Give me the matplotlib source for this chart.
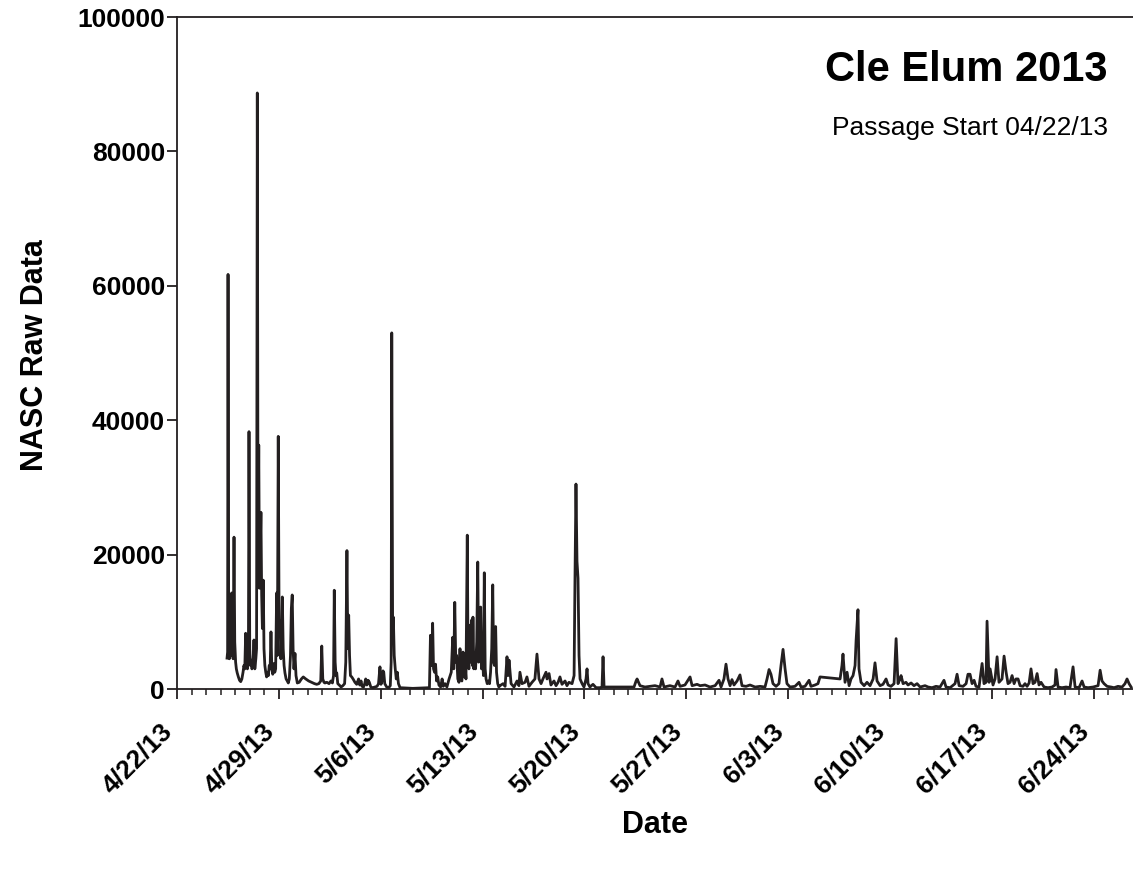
import matplotlib
matplotlib.use('Agg')
import matplotlib.pyplot as plt
import matplotlib.dates as mdates
from matplotlib.ticker import FuncFormatter, FixedLocator
from matplotlib.transforms import ScaledTranslation
import numpy as np
import pandas as pd

plt.rcParams['font.family'] = ['Liberation Sans', 'DejaVu Sans']
plt.rcParams['font.weight'] = 'bold'

# passage start; times below are days since 4/22/13 00:00
start = pd.Timestamp('2013-04-22')

# late April - early May
days_a = [3.44, 3.48, 3.51, 3.55, 3.60, 3.65, 3.70, 3.76, 3.81, 3.86, 3.92, 3.97, 4.03, 4.08,
          4.14, 4.22, 4.30, 4.38, 4.46, 4.54, 4.60, 4.66, 4.72, 4.78, 4.84, 4.91, 4.95, 5.00,
          5.05, 5.09, 5.15, 5.22, 5.29, 5.35, 5.42, 5.47, 5.52, 5.57, 5.62, 5.67, 5.72, 5.77,
          5.82, 5.87, 5.93, 5.98, 6.04, 6.10, 6.16, 6.22, 6.28, 6.34, 6.40, 6.46, 6.52, 6.58,
          6.63, 6.67, 6.72, 6.78, 6.85, 6.90, 6.96, 7.02, 7.08, 7.14, 7.19, 7.24, 7.30, 7.36,
          7.42, 7.50, 7.58, 7.65, 7.72, 7.80, 7.86, 7.92, 7.98, 8.04, 8.11, 8.18, 8.27, 8.40,
          8.55, 8.68, 8.85, 9.05, 9.25, 9.45, 9.60, 9.75, 9.88, 9.95, 10.02, 10.10, 10.17,
          10.30, 10.45, 10.58, 10.68, 10.76, 10.81, 10.87, 10.93, 10.98, 11.05, 11.15, 11.28,
          11.40, 11.52, 11.60, 11.68, 11.74, 11.80, 11.86, 11.92, 12.01, 12.10, 12.23, 12.35,
          12.48, 12.56, 12.65, 12.72, 12.82, 12.90, 12.97, 13.05, 13.14, 13.22, 13.32, 13.45,
          13.60, 13.75, 13.85, 13.90, 13.95, 14.02, 14.10, 14.16, 14.21, 14.28, 14.41, 14.55,
          14.66, 14.72, 14.76, 14.82, 14.87, 14.93, 15.00, 15.07, 15.14, 15.22, 15.33, 16.20]
nasc_a = [4600, 5500, 61700, 5000, 4500, 12000, 5000, 14300, 6000, 4500, 22600, 7000, 4000, 3000,
          2400, 1800, 1300, 1100, 1500, 2500, 3500, 3000, 8300, 4000, 3000, 5500, 38300, 6000,
          3500, 4300, 3000, 3500, 7300, 3000, 4500, 6000, 88700, 20000, 36300, 15000, 20000, 26300,
          14000, 9000, 16200, 6000, 3500, 2500, 1800, 2500, 2000, 3500, 3000, 8500, 3000, 2200,
          2800, 3800, 2500, 3000, 14300, 5000, 37600, 9000, 10200, 4500, 8000, 13700, 6000, 3500,
          2400, 1500, 1200, 900, 1500, 5000, 12000, 14000, 6000, 3000, 5300, 2000, 900, 1000,
          1500, 1800, 1500, 1200, 1000, 800, 700, 800, 1200, 6400, 1500, 1000, 900,
          1000, 800, 1200, 900, 2000, 14700, 4000, 2000, 2400, 800, 600, 300,
          500, 800, 4000, 20600, 6000, 11000, 5000, 2000, 1800, 1500, 1000, 700,
          1500, 600, 1200, 400, 300, 800, 1500, 600, 1300, 1000, 300, 200,
          300, 400, 800, 2000, 3300, 700, 1200, 2700, 2500, 800, 300, 200,
          500, 4000, 53000, 9000, 10700, 5000, 3000, 1500, 2500, 800, 200, 100]

# mid May
days_b = [17.35, 17.42, 17.50, 17.57, 17.63, 17.70, 17.77, 17.84, 17.92, 18.00, 18.12, 18.22,
          18.30, 18.42, 18.55, 18.70, 18.85, 18.95, 19.02, 19.09, 19.16, 19.22, 19.30, 19.38,
          19.45, 19.50, 19.58, 19.66, 19.72, 19.80, 19.86, 19.95, 20.00, 20.06, 20.12, 20.18,
          20.26, 20.30, 20.34, 20.40, 20.46, 20.52, 20.60, 20.67, 20.73, 20.80, 20.87, 20.93,
          21.00, 21.06, 21.12, 21.18, 21.24, 21.32, 21.40, 21.48, 21.55, 21.63, 21.70, 21.76,
          21.82, 21.90, 21.96, 22.04, 22.12, 22.20]
nasc_b = [200, 8000, 3500, 9800, 3000, 2500, 3700, 1200, 1800, 600, 300, 1500,
          400, 800, 300, 1500, 2500, 7700, 3000, 12900, 4000, 5000, 1500, 1000,
          6000, 1500, 1200, 5500, 1800, 3500, 1500, 22900, 5500, 3000, 9500, 4000,
          10300, 3500, 10700, 3000, 5000, 3000, 7000, 18900, 4000, 6000, 12200, 3000,
          5000, 2000, 17300, 3000, 1500, 800, 1200, 800, 2500, 6000, 15500, 4000,
          3500, 9300, 2500, 800, 300, 500]

# late May
days_c = [22.41, 22.55, 22.68, 22.75, 22.82, 22.96, 23.16, 23.37, 23.50, 23.57, 23.71, 23.92,
          24.05, 24.19, 24.40, 24.60, 24.74, 24.88, 25.02, 25.15, 25.36, 25.43, 25.57, 25.70,
          25.91, 26.05, 26.19, 26.32, 26.46, 26.67, 26.80, 26.94, 27.15, 27.29, 27.35, 27.42,
          27.49, 27.56, 27.63, 27.70, 27.84, 27.97, 28.11, 28.18, 28.25, 28.38, 28.59, 28.80,
          29.07, 29.21, 29.28, 29.35, 31.41]
nasc_c = [800, 400, 4800, 2000, 4300, 800, 300, 1200, 500, 2500, 800, 1000,
          1800, 400, 1000, 1500, 5200, 1500, 800, 1500, 2500, 1500, 2300, 600,
          1200, 500, 1000, 1800, 700, 1200, 500, 1000, 800, 2000, 16000, 30500,
          19000, 16500, 5000, 1500, 800, 300, 1500, 3000, 800, 300, 700, 200,
          200, 300, 4800, 300, 300]

# June
days_d = [31.55, 31.62, 31.82, 32.16, 32.51, 32.85, 33.20, 33.33, 33.47, 33.88, 34.23, 34.43,
          34.57, 34.91, 35.26, 35.40, 35.74, 35.95, 36.29, 36.63, 36.98, 37.25, 37.39, 37.59,
          37.73, 37.87, 38.01, 38.14, 38.28, 38.49, 38.69, 38.83, 39.11, 39.38, 39.73, 40.07,
          40.41, 40.55, 40.69, 40.82, 40.96, 41.17, 41.37, 41.51, 41.65, 41.79, 41.92, 42.13,
          42.47, 42.75, 42.89, 43.16, 43.44, 43.57, 43.85, 44.05, 44.19, 45.57, 45.70, 45.77,
          45.91, 46.05, 46.19, 46.32, 46.46, 46.60, 46.67, 46.80, 46.87, 47.01, 47.22, 47.42,
          47.63, 47.84, 47.97, 48.11, 48.32, 48.52, 48.73, 48.87, 49.07, 49.28, 49.42, 49.55,
          49.69, 49.76, 49.90, 50.10, 50.24, 50.45, 50.65, 50.86, 51.07, 51.41, 51.62, 51.89,
          52.16, 52.44, 52.71, 52.85, 53.13, 53.47, 53.61, 53.75, 54.02, 54.23, 54.36, 54.50,
          54.64, 54.78, 54.91, 55.12, 55.33, 55.46, 55.60, 55.67, 55.81, 55.88, 56.08, 56.22,
          56.36, 56.49, 56.70, 56.84, 56.98, 57.11, 57.25, 57.39, 57.53, 57.66, 57.80, 57.94,
          58.14, 58.28, 58.42, 58.56, 58.69, 58.83, 58.97, 59.11, 59.24, 59.38, 59.59, 59.86,
          60.14, 60.34, 60.41, 60.55, 60.82, 61.10, 61.37, 61.58, 61.72, 61.99, 62.20, 62.34,
          62.61, 62.96, 63.30, 63.44, 63.57, 63.71, 63.92, 64.19, 64.40, 64.67, 64.95, 65.15,
          65.29, 65.43, 65.57]
nasc_d = [1200, 1500, 500, 300, 400, 500, 300, 1500, 300, 500, 300, 1200,
          400, 600, 1800, 500, 700, 500, 600, 300, 500, 1300, 300, 1500,
          3700, 1500, 500, 1400, 600, 1200, 2100, 500, 400, 600, 300, 400,
          300, 1500, 2900, 2200, 800, 400, 800, 3500, 5900, 3000, 800, 300,
          400, 1000, 300, 400, 1300, 400, 600, 800, 1800, 1500, 3500, 5200,
          1000, 2500, 500, 1500, 2000, 3500, 7200, 11800, 3000, 1000, 500, 1000,
          500, 1500, 3900, 1200, 500, 700, 1500, 600, 400, 800, 7500, 800,
          1500, 2000, 800, 1000, 600, 900, 500, 800, 300, 500, 300, 200,
          400, 300, 1300, 300, 200, 800, 2200, 500, 400, 800, 2200, 2200,
          800, 1300, 400, 300, 3800, 800, 1000, 10100, 1000, 3000, 600, 1500,
          4800, 1000, 1500, 4900, 2500, 800, 1000, 2000, 800, 1500, 1500, 500,
          400, 800, 400, 900, 3000, 800, 1000, 2300, 600, 1000, 300, 200,
          300, 600, 2900, 300, 200, 300, 200, 3300, 300, 200, 1200, 300,
          200, 300, 500, 2800, 1200, 800, 400, 300, 200, 400, 300, 800,
          1500, 800, 300]

days = days_a + days_b + days_c + days_d
nasc = nasc_a + nasc_b + nasc_c + nasc_d
dates = start + pd.to_timedelta(days, unit='D')

fig = plt.figure(figsize=(11.33, 8.69), dpi=100)
ax = fig.add_axes([0.1562, 0.2071, 0.8438, 0.7733])

ax.plot(dates, nasc, color='#231f20', lw=2.0)

ax.set_ylim(0, 100000)
ax.set_xlim(start, start + pd.Timedelta(days=65.7))

# weekly labelled ticks, daily minor ticks
week_ticks = pd.date_range('2013-04-22', '2013-06-24', freq='7D')
ax.xaxis.set_major_locator(FixedLocator(mdates.date2num(week_ticks)))
ax.xaxis.set_minor_locator(mdates.DayLocator())
ax.xaxis.set_major_formatter(FuncFormatter(
    lambda v, pos: (lambda d: f"{d.month}/{d.day}/{d:%y}")(mdates.num2date(v))))
ax.set_yticks(np.arange(0, 100001, 20000))
ax.yaxis.set_major_formatter(FuncFormatter(lambda v, pos: f"{int(v)}"))

for side in ['left', 'top', 'bottom']:
    ax.spines[side].set_linewidth(1.3)
    ax.spines[side].set_color('#231f20')
ax.spines['right'].set_visible(False)

ax.tick_params(axis='y', length=7.2, width=1.3, pad=1.5, labelsize=19, color='#231f20')
ax.tick_params(axis='x', which='major', length=7.5, width=1.3, pad=5, labelsize=19, color='#231f20')
ax.tick_params(axis='x', which='minor', length=4.3, width=1.1, color='#231f20')
shift = ScaledTranslation(-0.17, -0.13, fig.dpi_scale_trans)
for lbl in ax.get_xticklabels():
    lbl.set_rotation(45)
    lbl.set_ha('right')
    lbl.set_rotation_mode('anchor')
    lbl.set_transform(lbl.get_transform() + shift)

ax.set_xlabel('Date', fontsize=22, fontweight='bold', va='center')
ax.xaxis.set_label_coords(0.5, -0.2024)
ax.set_ylabel('NASC Raw Data', fontsize=22, fontweight='bold', va='center')
ax.yaxis.set_label_coords(-0.1485, 0.497)

ax.text(0.826, 0.921, 'Cle Elum 2013', transform=ax.transAxes, fontsize=30,
        ha='center', va='center')
ax.text(0.8295, 0.835, 'Passage Start 04/22/13', transform=ax.transAxes, fontsize=19,
        fontweight='normal', ha='center', va='center')

fig.savefig('out.png', dpi=100)
